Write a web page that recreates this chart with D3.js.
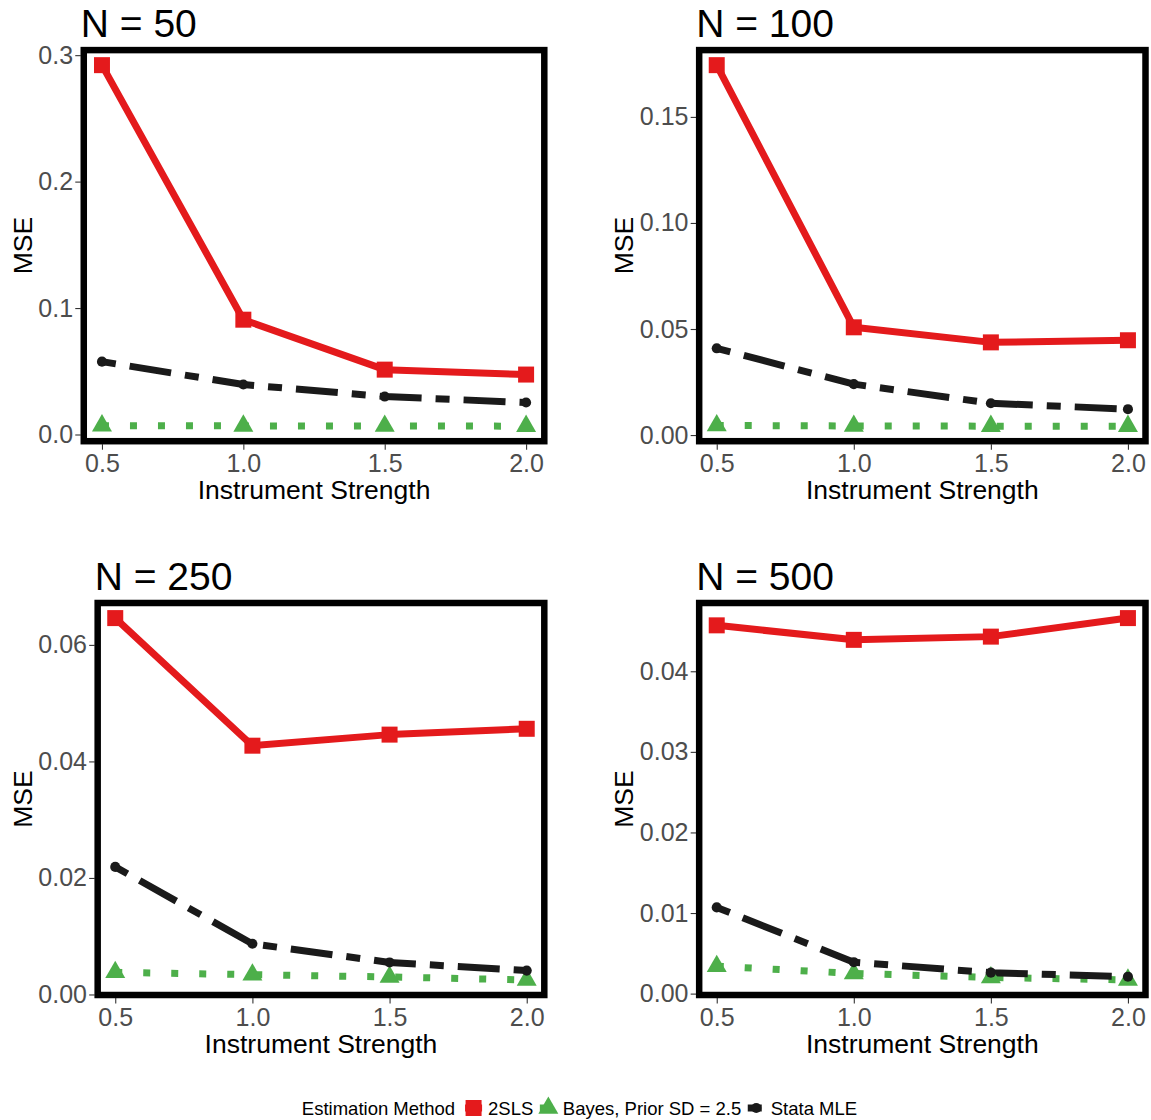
<!DOCTYPE html>
<html>
<head>
<meta charset="utf-8">
<script src="https://cdn.jsdelivr.net/npm/d3@7"></script>
<style>
  body { margin: 0; background: #fff; }
  svg { display: block; font-family: "Liberation Sans", Arial, Helvetica, sans-serif; }
</style>
</head>
<body>
<div id="chart"></div>
<script>
// values
const strength = [0.5, 1.0, 1.5, 2.0];
const sampleSizes = [50, 100, 250, 500];
const methods = ["2SLS", "Bayes, Prior SD = 2.5", "Stata MLE"];

// one row per panel (N = 50, 100, 250, 500)
const mse2SLS = [
  [0.2921, 0.0908, 0.0513, 0.0474],
  [0.1744, 0.0508, 0.0437, 0.0447],
  [0.0646, 0.0427, 0.0446, 0.0456],
  [0.0457, 0.0439, 0.0443, 0.0466],
];
const mseBayes = [
  [0.0070, 0.0068, 0.0067, 0.0066],
  [0.0045, 0.0043, 0.0042, 0.0042],
  [0.0038, 0.0034, 0.0030, 0.0025],
  [0.0034, 0.0025, 0.0020, 0.0017],
];
const mseStata = [
  [0.0576, 0.0395, 0.0300, 0.0253],
  [0.0409, 0.0240, 0.0150, 0.0122],
  [0.0219, 0.0087, 0.0055, 0.0041],
  [0.0107, 0.0039, 0.0026, 0.0021],
];

const xTicks = [0.5, 1.0, 1.5, 2.0];
const yTicks = [
  [0, 0.1, 0.2, 0.3],
  [0, 0.05, 0.1, 0.15],
  [0, 0.02, 0.04, 0.06],
  [0, 0.01, 0.02, 0.03, 0.04],
];
const yTickDigits = [1, 2, 2, 2];

const colors = ["#E41A1C", "#4DAF4A", "#1A1A1A"];
const dashes = [null, "7,21", "14,14,42,14"];
const symbols = [
  d3.symbol().type(d3.symbolSquare).size(256),
  d3.symbol().type(d3.symbolTriangle).size(173),
  d3.symbol().type(d3.symbolCircle).size(80),
];
const seriesValues = [mse2SLS, mseBayes, mseStata];

const width = 1151;
const height = 1120;
const colX = [0, 601.5];
const panelRight = [547.3, 1148.5];
const panelTop = [47.1, 600];
const panelBottom = [444.2, 998];

const svg = d3
  .select("#chart")
  .append("svg")
  .attr("width", width)
  .attr("height", height);

svg.append("rect").attr("width", width).attr("height", height).attr("fill", "#fff");

function textWidth(str, size) {
  const t = svg.append("text").attr("font-size", size).text(str);
  const w = t.node().getComputedTextLength();
  t.remove();
  return w;
}

sampleSizes.forEach((n, i) => {
  const col = i % 2;
  const row = Math.floor(i / 2);
  const fmt = d3.format(`.${yTickDigits[i]}f`);
  const labelW = d3.max(yTicks[i], (t) => textWidth(fmt(t), 25));
  const left = colX[col] + 38.5 + labelW + 7.5;
  const right = panelRight[col];
  const top = panelTop[row];
  const bottom = panelBottom[row];

  const all = seriesValues.flatMap((s) => s[i]);
  const lo = d3.min(all);
  const hi = d3.max(all);
  const pad = (hi - lo) * 0.05;

  const x = d3.scaleLinear().domain([0.425, 2.075]).range([left, right]);
  const y = d3.scaleLinear().domain([lo - pad, hi + pad]).range([bottom, top]);

  const g = svg.append("g");

  // axes
  const yAxis = g
    .append("g")
    .attr("transform", `translate(${left},0)`)
    .call(d3.axisLeft(y).tickValues(yTicks[i]).tickFormat(fmt).tickSize(5.5).tickPadding(2.2));
  const xAxis = g
    .append("g")
    .attr("transform", `translate(0,${bottom})`)
    .call(d3.axisBottom(x).tickValues(xTicks).tickFormat(d3.format(".1f")).tickSize(5.5).tickPadding(4.5));
  [yAxis, xAxis].forEach((a) => {
    a.select(".domain").remove();
    a.selectAll(".tick line").attr("stroke", "#333").attr("stroke-width", 1.1);
    a.selectAll(".tick text")
      .attr("fill", "#4D4D4D")
      .attr("font-size", 25)
      .attr("font-family", "Liberation Sans, Arial, sans-serif");
  });

  // lines first, then points
  seriesValues.forEach((s, k) => {
    const line = d3
      .line()
      .x((d, j) => x(strength[j]))
      .y((d) => y(d));
    g.append("path")
      .datum(s[i])
      .attr("d", line)
      .attr("fill", "none")
      .attr("stroke", colors[k])
      .attr("stroke-width", 7)
      .attr("stroke-linejoin", "round")
      .attr("stroke-dasharray", dashes[k]);
  });
  seriesValues.forEach((s, k) => {
    g.append("g")
      .selectAll("path")
      .data(s[i])
      .join("path")
      .attr("transform", (d, j) => `translate(${x(strength[j])},${y(d)})`)
      .attr("d", symbols[k])
      .attr("fill", colors[k]);
  });

  // panel border
  g.append("rect")
    .attr("x", left + 3)
    .attr("y", top + 3)
    .attr("width", right - left - 6)
    .attr("height", bottom - top - 6)
    .attr("fill", "none")
    .attr("stroke", "#000")
    .attr("stroke-width", 6.5);

  // titles
  g.append("text")
    .attr("x", left)
    .attr("y", top - 10)
    .attr("font-size", 39)
    .attr("fill", "#000")
    .text(`N = ${n}`);

  g.append("text")
    .attr("x", (left + right) / 2)
    .attr("y", bottom + 55)
    .attr("font-size", 26.5)
    .attr("text-anchor", "middle")
    .text("Instrument Strength");

  g.append("text")
    .attr("transform", `translate(${colX[col] + 31.5},${(top + bottom) / 2}) rotate(-90)`)
    .attr("font-size", 26.5)
    .attr("text-anchor", "middle")
    .text("MSE");
});

// legend
const legendSize = 18.5;
const legendY = 1108;
const legendTitle = "Estimation Method";
const keyW = 17;
const widths = methods.map((m) => textWidth(m, legendSize));
const titleW = textWidth(legendTitle, legendSize);
const total = titleW + 10 + d3.sum(widths) + methods.length * (keyW + 6) + (methods.length - 1) * 6.5;
let lx = 579.5 - total / 2;

const legend = svg.append("g").attr("font-size", legendSize);
legend
  .append("text")
  .attr("x", lx)
  .attr("y", legendY + 6.6)
  .text(legendTitle);
lx += titleW + 10;

methods.forEach((m, k) => {
  const cx = lx + keyW / 2;
  legend
    .append("line")
    .attr("x1", lx)
    .attr("x2", lx + keyW)
    .attr("y1", legendY)
    .attr("y2", legendY)
    .attr("stroke", colors[k])
    .attr("stroke-width", 7)
    .attr("stroke-dasharray", dashes[k]);
  legend
    .append("path")
    .attr("transform", `translate(${cx},${legendY})`)
    .attr("d", symbols[k])
    .attr("fill", colors[k]);
  lx += keyW + 6;
  legend
    .append("text")
    .attr("x", lx)
    .attr("y", legendY + 6.6)
    .text(m);
  lx += widths[k] + 6.5;
});
</script>
</body>
</html>
